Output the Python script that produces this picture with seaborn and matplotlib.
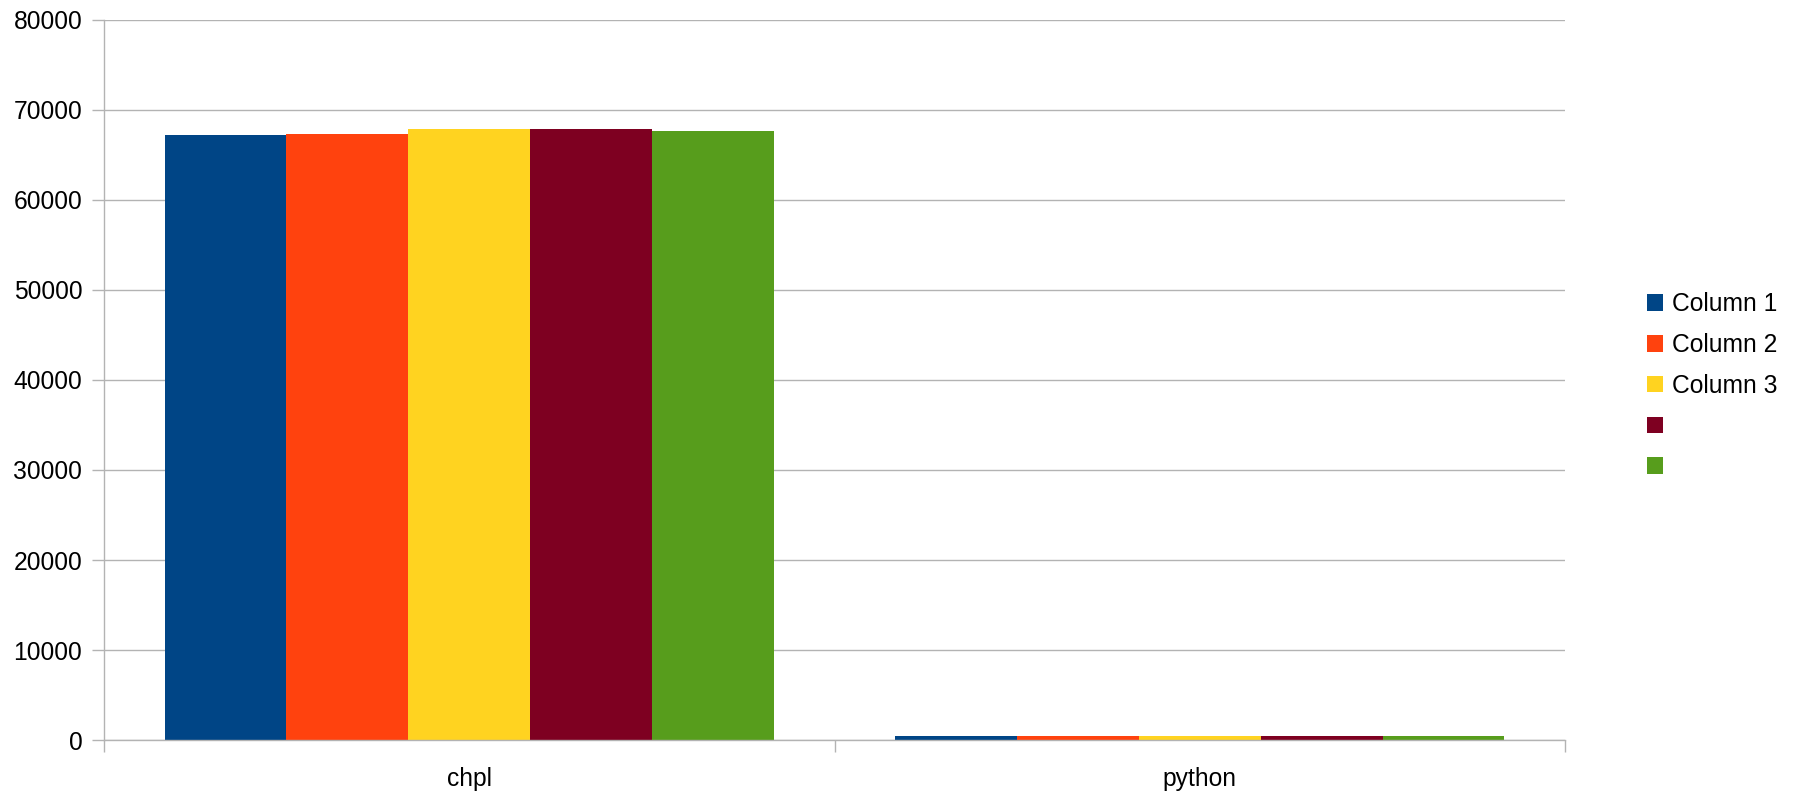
import matplotlib
matplotlib.use("Agg")
import matplotlib.pyplot as plt
import seaborn as sns
import pandas as pd
from matplotlib.patches import Patch

categories = ["chpl", "python"]
series_names = ["Column 1", "Column 2", "Column 3", "Column 4", "Column 5"]
legend_labels = ["Column 1", "Column 2", "Column 3", "", ""]
chpl_values = [67220, 67330, 67890, 67890, 67670]
python_values = [390, 390, 390, 390, 390]
colors = ["#004586", "#ff420e", "#ffd320", "#7e0021", "#579d1c"]
y_ticks = [0, 10000, 20000, 30000, 40000, 50000, 60000, 70000, 80000]

rows = []
for cat, vals in zip(categories, [chpl_values, python_values]):
    for name, v in zip(series_names, vals):
        rows.append({"category": cat, "series": name, "value": v})
df = pd.DataFrame(rows)

sns.set_theme(style="white", rc={"text.color": "black",
                                 "xtick.color": "black",
                                 "ytick.color": "black"})
plt.rcParams["font.family"] = ["Liberation Sans", "DejaVu Sans"]

fig = plt.figure(figsize=(18.05, 7.94), dpi=100)
ax = fig.add_axes([104 / 1805, 54 / 794, (1565 - 104) / 1805, 720 / 794])

sns.barplot(data=df, x="category", y="value", hue="series",
            hue_order=series_names, palette=colors, order=categories,
            width=0.834, gap=0, saturation=1, linewidth=0,
            legend=False, ax=ax)

ax.set_ylim(0, 80000)
ax.set_xlim(-0.5, 1.5)
ax.set_yticks(y_ticks)
ax.set_yticklabels([str(t) for t in y_ticks])
ax.set_xlabel("")
ax.set_ylabel("")

grid_c = "#b3b3b3"
ax.yaxis.grid(True, color=grid_c, linewidth=1.0)
ax.set_axisbelow(True)
for s in ["top", "right"]:
    ax.spines[s].set_visible(False)
for s in ["left", "bottom"]:
    ax.spines[s].set_color(grid_c)
    ax.spines[s].set_linewidth(1.0)

ax.tick_params(axis="y", length=8.6, width=1.0, color=grid_c,
               labelsize=17.7, labelcolor="black", pad=7, left=True)
ax.set_xticks([-0.5, 0.5, 1.5], minor=True)
ax.tick_params(axis="x", which="minor", length=8.6, width=1.0, color=grid_c,
               bottom=True)
ax.tick_params(axis="x", which="major", length=0, labelsize=17.7,
               labelcolor="black", pad=19.5)

handles = [Patch(facecolor=c, edgecolor="none") for c in colors]
fig.legend(handles, legend_labels, loc="upper left",
           bbox_to_anchor=(1635 / 1805, 1 - 280 / 794),
           frameon=False, fontsize=17.7, labelcolor="black",
           handlelength=0.65, handleheight=0.65,
           handletextpad=0.37, labelspacing=0.68, borderpad=0)

fig.savefig("out.png", dpi=100, facecolor="white")
